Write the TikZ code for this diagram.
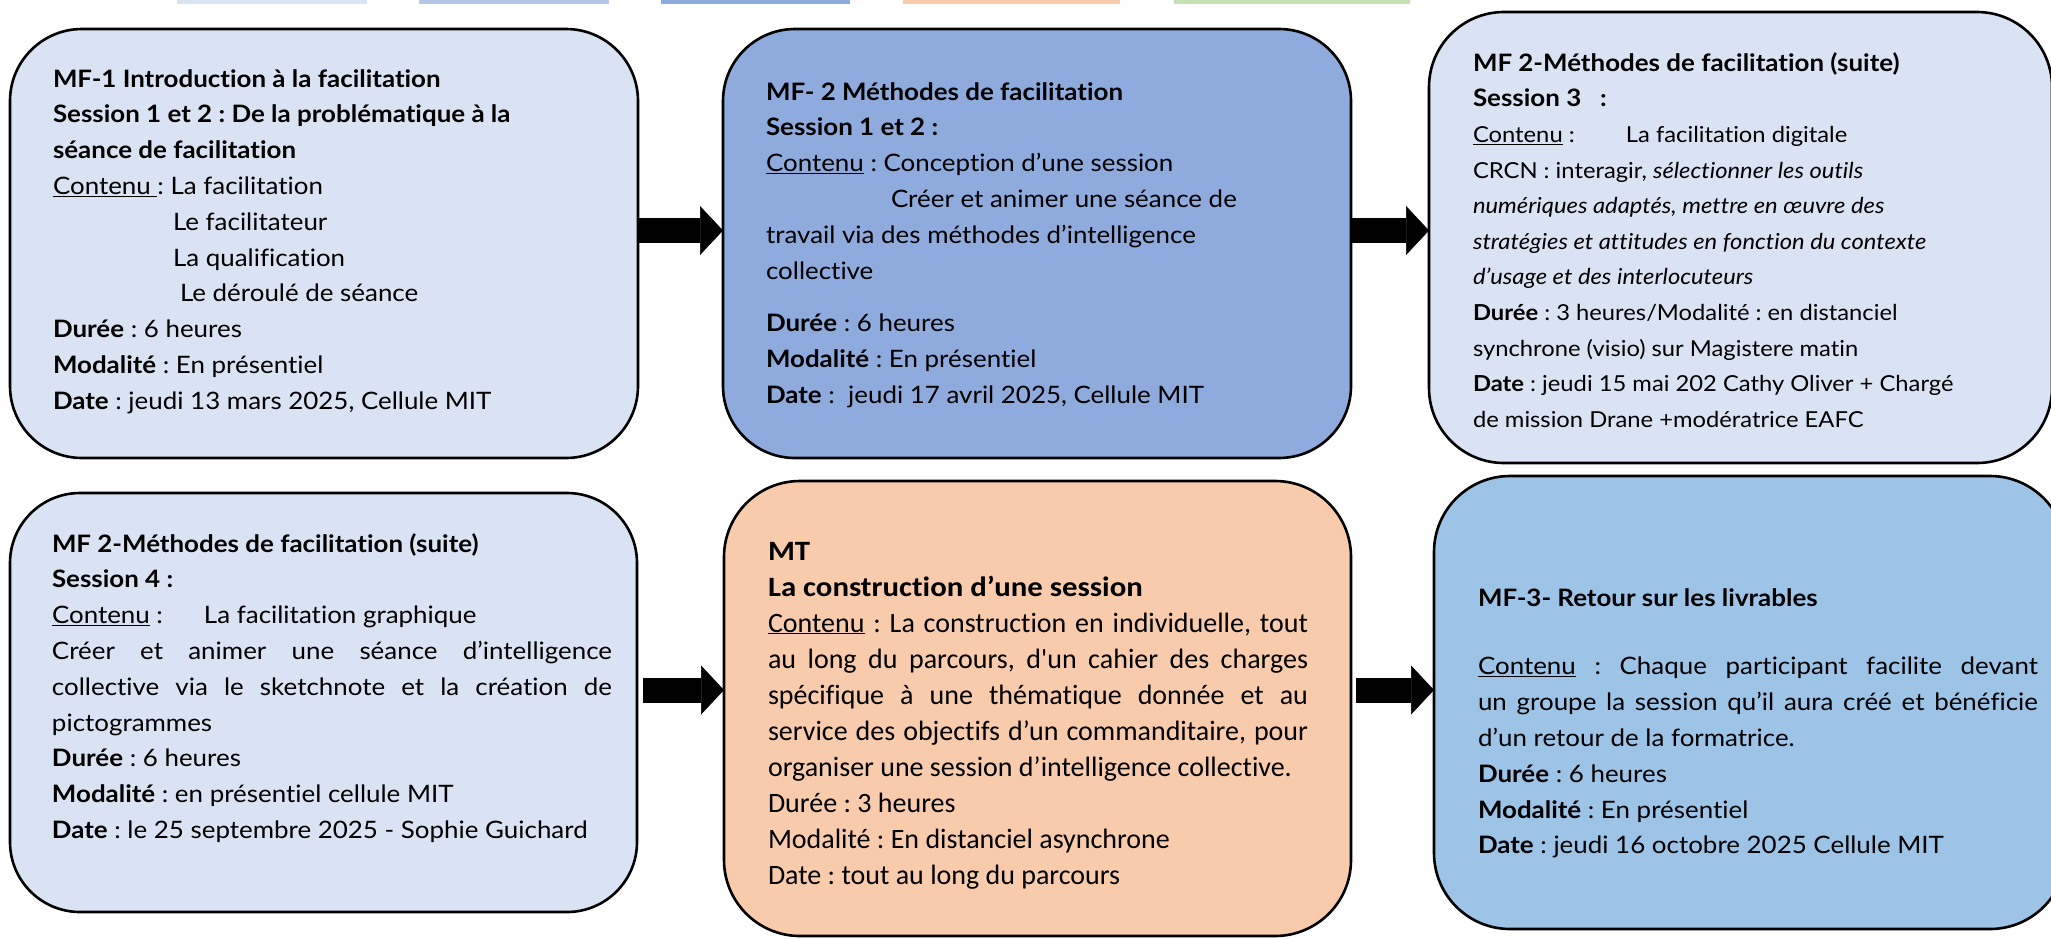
\documentclass[tikz,border=0pt]{standalone}
\usepackage{fontspec}
\setmainfont{Lato}[Ligatures=NoCommon, FakeStretch=1.08]
\newfontfamily\calfont{Carlito}[Ligatures=NoCommon]
\newfontfamily\calwide{Carlito}[Ligatures=NoCommon, FakeStretch=1.1]
\usetikzlibrary{arrows.meta,calc}
\definecolor{cA}{HTML}{DAE3F3}
\definecolor{cB}{HTML}{B4C7E7}
\definecolor{cC}{HTML}{8FAADC}
\definecolor{cD}{HTML}{F8CBAD}
\definecolor{cE}{HTML}{C5E0B4}
\definecolor{cF}{HTML}{9DC3E6}
\newcommand{\txtfont}{\frenchspacing\fontsize{24}{35.8}\selectfont}
\newcommand{\smallbody}{\fontsize{22}{35.6}\selectfont}
\newcommand{\calbody}{\frenchspacing\calfont\fontsize{28}{36}\selectfont}
\tikzset{
  card/.style={draw=black, line width=2.6pt, rounded corners=#1, outer sep=0pt, inner sep=0pt},
  blockarrow/.style={draw=black, line width=25pt, -{Triangle[length=23pt,width=49pt,line width=0.5pt]}},
  cardtext/.style={anchor=base west, inner sep=0pt, outer sep=0pt},
  bar/.style={inner sep=0pt, outer sep=0pt, minimum height=4pt, anchor=north west}
}
\begin{document}
\begin{tikzpicture}[x=1pt,y=-1pt]
\clip (0,0) rectangle (2051,938);
\fill[white] (0,0) rectangle (2051,938);
% top colour bars
\node[bar, fill=cA, minimum width=190pt] (barA) at (177,0) {};
\node[bar, fill=cB, minimum width=190pt] (barB) at (419,0) {};
\node[bar, fill=cC, minimum width=189pt] (barC) at (661,0) {};
\node[bar, fill=cD, minimum width=217pt] (barD) at (903,0) {};
\node[bar, fill=cE, minimum width=236pt] (barE) at (1174,0) {};
% cards
\node[card=72pt, fill=cA, minimum width=628pt, minimum height=429pt] (b1) at (324,243.5) {};
\node[card=72pt, fill=cC, minimum width=628pt, minimum height=429pt] (b2) at (1037,243.5) {};
\node[card=75pt, fill=cA, minimum width=623pt, minimum height=451pt] (b3) at (1740.5,237.5) {};
\node[card=70pt, fill=cA, minimum width=627pt, minimum height=419pt] (b4) at (323.5,702.5) {};
\node[card=76pt, fill=cD, minimum width=627pt, minimum height=455pt] (b5) at (1037.5,708.5) {};
\node[card=76pt, fill=cF, minimum width=632pt, minimum height=453pt] (b6) at (1750,702.5) {};
% texts
\node[cardtext] (t1) at (53,87) {\vtop{\txtfont
\hbox{\bfseries MF-1 Introduction à la facilitation}
\hbox{\bfseries Session 1 et 2 : De la problématique à la}
\hbox{\bfseries séance de facilitation}
\hbox{\underline{Contenu\ }: La facilitation}
\hbox{\hspace*{120pt}Le facilitateur}
\hbox{\hspace*{120pt}La qualification}
\hbox{\hspace*{127pt}Le déroulé de séance}
\hbox{\textbf{Durée} : 6 heures}
\hbox{\textbf{Modalité} : En présentiel}
\hbox{\textbf{Date} : jeudi 13 mars 2025, Cellule MIT}}};
\node[cardtext] (t2) at (766,100) {\vtop{\txtfont
\hbox{\bfseries MF- 2 Méthodes de facilitation}
\hbox{\bfseries Session 1 et 2 :}
\hbox{\underline{Contenu} : Conception d’une session}
\hbox{\hspace*{125pt}Créer et animer une séance de}
\hbox{travail via des méthodes d’intelligence}
\hbox{collective}
\vskip 17pt
\hbox{\textbf{Durée} : 6 heures}
\hbox{\textbf{Modalité} : En présentiel}
\hbox{\textbf{Date} :\ \ jeudi 17 avril 2025, Cellule MIT}}};
\node[cardtext] (t3) at (1473,71) {\vtop{\txtfont
\hbox{\bfseries MF 2-Méthodes de facilitation (suite)}
\hbox{\bfseries Session 3\ \ \ :}
\smallbody
\hbox{\makebox[153pt][l]{\underline{Contenu} :}La facilitation digitale}
\hbox{CRCN : interagir, \textit{sélectionner les outils}}
\hbox{\itshape numériques adaptés, mettre en œuvre des}
\hbox{\itshape stratégies et attitudes en fonction du contexte}
\hbox{\itshape d’usage et des interlocuteurs}
\hbox{\textbf{Durée} : 3 heures/Modalité : en distanciel}
\hbox{synchrone (visio) sur Magistere matin}
\hbox{\textbf{Date} : jeudi 15 mai 202 Cathy Oliver + Chargé}
\hbox{de mission Drane +modératrice EAFC}}};
\node[cardtext] (t4) at (52,552) {\vtop{\txtfont
\hbox{\bfseries MF 2-Méthodes de facilitation (suite)}
\hbox{\bfseries Session 4 :}
\hbox{\makebox[152pt][l]{\underline{Contenu} :}La facilitation graphique}
\hbox to 560pt{Créer et animer une séance d’intelligence}
\hbox to 560pt{collective via le sketchnote et la création de}
\hbox{pictogrammes}
\hbox{\textbf{Durée} : 6 heures}
\hbox{\textbf{Modalité} : en présentiel cellule MIT}
\hbox{\textbf{Date} : le 25 septembre 2025 - Sophie Guichard}}};
\node[cardtext] (t5) at (768,560) {\vtop{\calbody
\hbox{\calwide\bfseries MT}
\hbox{\calwide\bfseries La construction d’une session}
\hbox to 540pt{\underline{Contenu} : La construction en individuelle, tout}
\hbox to 540pt{au long du parcours, d'un cahier des charges}
\hbox to 540pt{spécifique à une thématique donnée et au}
\hbox to 540pt{service des objectifs d’un commanditaire, pour}
\hbox{organiser une session d’intelligence collective.}
\hbox{Durée : 3 heures}
\hbox{Modalité : En distanciel asynchrone}
\hbox{Date : tout au long du parcours}}};
\node[cardtext] (t6) at (1478,606) {\vtop{\txtfont
\hbox{\bfseries MF-3- Retour sur les livrables}
\vskip 33pt
\hbox to 560pt{\underline{Contenu} : Chaque participant facilite devant}
\hbox to 560pt{un groupe la session qu’il aura créé et bénéficie}
\hbox{d’un retour de la formatrice.}
\hbox{\textbf{Durée} : 6 heures}
\hbox{\textbf{Modalité} : En présentiel}
\hbox{\textbf{Date} : jeudi 16 octobre 2025 Cellule MIT}}};
% arrows
\coordinate (ya) at (0,230.5);
\coordinate (yb) at (0,690);
\draw[blockarrow] (b1.east |- ya) -- (b2.west |- ya);
\draw[blockarrow] (b2.east |- ya) -- (b3.west |- ya);
\draw[blockarrow] ($(b4.east |- yb)+(6,0)$) -- (b5.west |- yb);
\draw[blockarrow] ($(b5.east |- yb)+(5,0)$) -- (b6.west |- yb);
\end{tikzpicture}
\end{document}
